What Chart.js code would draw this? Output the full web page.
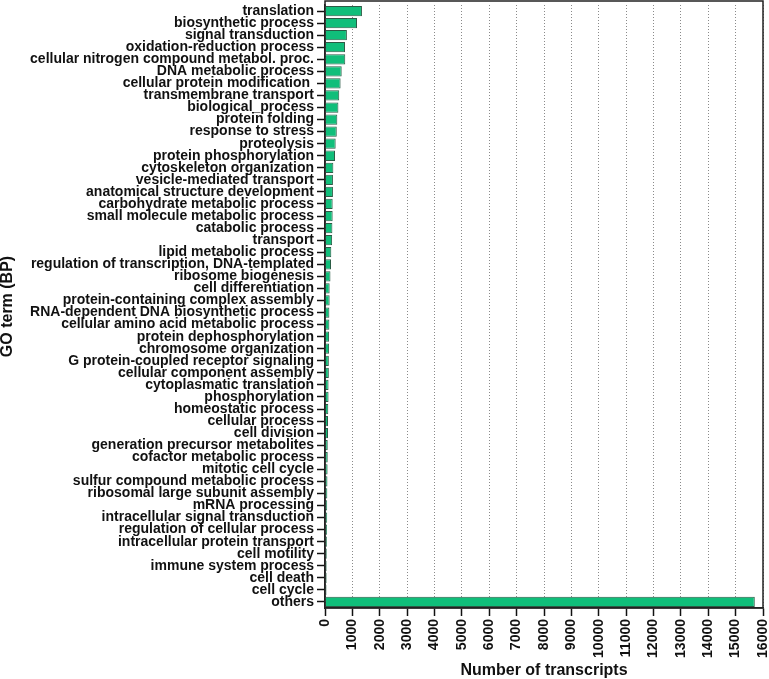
<!DOCTYPE html>
<html>
<head>
<meta charset="utf-8">
<script src="https://cdn.jsdelivr.net/npm/chart.js@4/dist/chart.umd.min.js"></script>
<style>
  html, body { margin: 0; padding: 0; background: #fff; }
</style>
</head>
<body>
<canvas id="goChart" width="769" height="679"></canvas>
<script>
// GO terms (biological process) and number of transcripts
var goTerms = [
    "translation", "biosynthetic process", "signal transduction", "oxidation-reduction process",
    "cellular nitrogen compound metabol. proc.", "DNA metabolic process", "cellular protein modification ",
    "transmembrane transport", "biological_process", "protein folding", "response to stress",
    "proteolysis", "protein phosphorylation", "cytoskeleton organization", "vesicle-mediated transport",
    "anatomical structure development", "carbohydrate metabolic process", "small molecule metabolic process",
    "catabolic process", "transport", "lipid metabolic process", "regulation of transcription, DNA-templated",
    "ribosome biogenesis", "cell differentiation", "protein-containing complex assembly",
    "RNA-dependent DNA biosynthetic process", "cellular amino acid metabolic process",
    "protein dephosphorylation", "chromosome organization", "G protein-coupled receptor signaling",
    "cellular component assembly", "cytoplasmatic translation", "phosphorylation", "homeostatic process",
    "cellular process", "cell division", "generation precursor metabolites", "cofactor metabolic process",
    "mitotic cell cycle", "sulfur compound metabolic process", "ribosomal large subunit assembly",
    "mRNA processing", "intracellular signal transduction", "regulation of cellular process",
    "intracellular protein transport", "cell motility", "immune system process", "cell death",
    "cell cycle", "others"
];
var transcripts = [
    1350, 1170, 800, 730,
    740, 610, 570,
    520, 490, 450, 430,
    390, 365, 305, 290,
    290, 280, 280,
    270, 260, 230, 220,
    200, 170, 170,
    160, 160,
    150, 150, 140,
    140, 130, 130, 120,
    110, 110, 100, 100,
    95, 90, 85,
    80, 80, 75,
    70, 65, 60, 60,
    55, 15700
];
var xTicks = [0, 16000, 1000]; // min, max, step

var boldFont = function (size) {
    return { family: "'Liberation Sans', Arial, sans-serif", size: size, weight: 'bold' };
};

// frame around the plot area, top edge sits a little above the first bar
var frame = {
    id: 'frame',
    afterDraw: function (chart) {
        var a = chart.chartArea;
        var c = chart.ctx;
        c.save();
        c.strokeStyle = '#222';
        c.lineWidth = 1.5;
        c.strokeRect(a.left, 1, a.right - a.left, a.bottom - 1);
        c.restore();
    }
};

var ctx = document.getElementById('goChart').getContext('2d');
var goChart = new Chart(ctx, {
    type: 'bar',
    data: {
        labels: goTerms,
        datasets: [{
            data: transcripts,
            backgroundColor: '#10be7a',
            borderColor: '#2b5a45',
            borderWidth: 1,
            categoryPercentage: 0.85,
            barPercentage: 1.0
        }]
    },
    options: {
        indexAxis: 'y',
        responsive: false,
        animation: false,
        layout: { padding: { top: 5, right: 6, left: 0, bottom: 0 } },
        plugins: {
            legend: { display: false },
            tooltip: { enabled: false }
        },
        scales: {
            x: {
                type: 'linear',
                min: xTicks[0],
                max: xTicks[1],
                ticks: {
                    stepSize: xTicks[2],
                    minRotation: 90,
                    maxRotation: 90,
                    color: '#111',
                    font: boldFont(14),
                    padding: 3,
                    callback: function (v) { return String(v); }
                },
                grid: {
                    color: '#8a8a8a',
                    lineWidth: 1,
                    tickColor: '#111',
                    tickWidth: 1.5,
                    tickLength: 8
                },
                border: { color: '#222', width: 1.5, dash: [1, 2] },
                title: {
                    display: true,
                    text: 'Number of transcripts',
                    color: '#111',
                    font: { family: "'Liberation Sans', Arial, sans-serif", size: 16, weight: 'bold', lineHeight: 1 },
                    padding: { top: 0, bottom: 0 }
                },
                afterFit: function (scale) {
                    scale.height = 71;
                    scale.paddingLeft = 0;
                    scale.paddingRight = 0;
                }
            },
            y: {
                ticks: {
                    autoSkip: false,
                    color: '#111',
                    font: boldFont(14),
                    padding: 3
                },
                grid: {
                    drawOnChartArea: false,
                    offset: false,
                    tickColor: '#111',
                    tickWidth: 1.5,
                    tickLength: 8
                },
                border: { color: '#222', width: 1.5 },
                title: {
                    display: true,
                    text: 'GO term (BP)',
                    color: '#111',
                    font: { family: "'Liberation Sans', Arial, sans-serif", size: 16, weight: 'bold', lineHeight: 1 },
                    padding: 0
                },
                afterFit: function (scale) {
                    scale.width = 325;
                    scale.paddingTop = 0;
                    scale.paddingBottom = 0;
                }
            }
        }
    },
    plugins: [frame]
});
</script>
</body>
</html>
